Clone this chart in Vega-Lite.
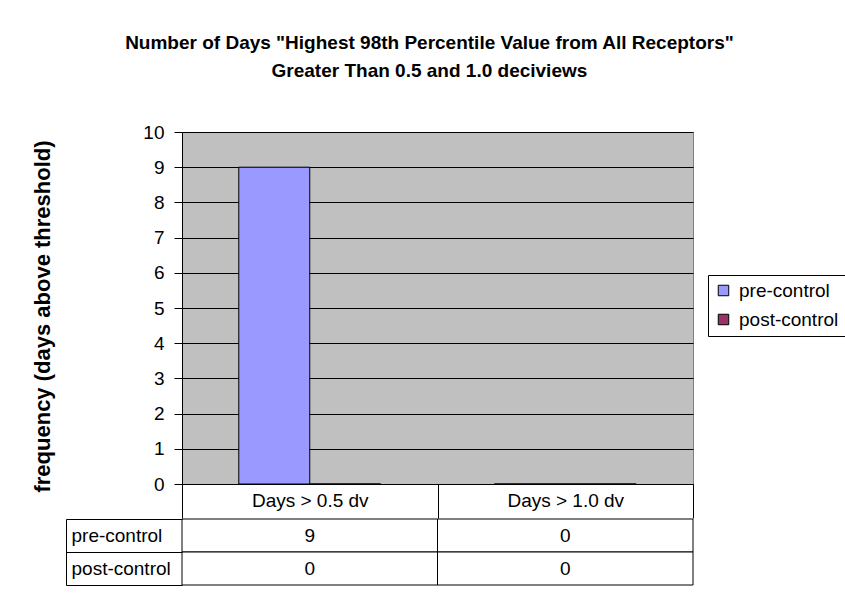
{
  "$schema": "https://vega.github.io/schema/vega-lite/v6.json",
  "padding": {"left": 31, "top": 33, "right": 0, "bottom": 0},
  "background": "white",
  "config": {"font": "Liberation Sans", "concat": {"spacing": -10}},
  "title": {
    "text": ["Number of Days \"Highest 98th Percentile Value from All Receptors\"", "Greater Than 0.5 and 1.0 deciviews"],
    "fontSize": 19, "fontWeight": "bold", "color": "black", "anchor": "middle", "lineHeight": 28, "offset": 42, "dx": -9
  },
  "datasets": {
    "bars": [
      {"cat": "Days > 0.5 dv", "series": "pre-control", "value": 9},
      {"cat": "Days > 0.5 dv", "series": "post-control", "value": 0},
      {"cat": "Days > 1.0 dv", "series": "pre-control", "value": 0},
      {"cat": "Days > 1.0 dv", "series": "post-control", "value": 0}
    ]
  },
  "vconcat": [
    {
      "width": 511,
      "height": 352,
      "view": {"fill": "#C0C0C0", "stroke": "#808080"},
      "data": {"name": "bars"},
      "mark": {"type": "bar", "stroke": "black", "strokeWidth": 1},
      "encoding": {
        "x": {
          "field": "cat", "type": "nominal", "sort": null,
          "scale": {"paddingInner": 0, "paddingOuter": 0},
          "axis": {"title": null, "labelAngle": 0, "labelFontSize": 19, "labelColor": "black", "tickBand": "extent", "tickSize": 34, "tickColor": "black", "domainColor": "black", "labelPadding": -18, "labelBaseline": "middle"}
        },
        "xOffset": {"field": "series", "type": "nominal", "sort": ["pre-control", "post-control"], "scale": {"paddingOuter": 0.8, "paddingInner": 0}},
        "y": {
          "field": "value", "type": "quantitative",
          "scale": {"domain": [0, 10], "nice": false},
          "axis": {"values": [0,1,2,3,4,5,6,7,8,9,10], "grid": true, "gridColor": "black", "gridOpacity": 1, "domainColor": "black", "tickColor": "black", "tickSize": 8, "labelPadding": 10, "labelFontSize": 19, "labelColor": "black", "title": "frequency (days above threshold)", "titleFontSize": 22, "titleFontWeight": "bold", "titleColor": "black", "titlePadding": 88, "titleY": 184}
        },
        "color": {
          "field": "series", "type": "nominal",
          "scale": {"domain": ["pre-control", "post-control"], "range": ["#9999FF", "#993366"]},
          "legend": {"title": null, "orient": "none", "legendX": 526, "legendY": 143, "labelFontSize": 19, "labelColor": "black", "symbolType": "square", "symbolSize": 110, "symbolStrokeColor": "black", "symbolStrokeWidth": 1, "strokeColor": "black", "fillColor": "white", "padding": 6, "rowPadding": 9, "labelOffset": 6}
        }
      }
    },
    {
      "width": 511,
      "height": 66,
      "view": {"stroke": null},
      "data": {"values": [
        {"row": "pre-control", "cat": "Days > 0.5 dv", "val": 9},
        {"row": "pre-control", "cat": "Days > 1.0 dv", "val": 0},
        {"row": "post-control", "cat": "Days > 0.5 dv", "val": 0},
        {"row": "post-control", "cat": "Days > 1.0 dv", "val": 0}
      ]},
      "encoding": {
        "x": {"field": "cat", "type": "nominal", "sort": null, "scale": {"paddingInner": 0, "paddingOuter": 0}, "axis": null},
        "y": {"field": "row", "type": "nominal", "sort": ["pre-control", "post-control"], "scale": {"paddingInner": 0, "paddingOuter": 0},
          "axis": {"title": null, "offset": 116, "domainColor": "black", "tickColor": "black", "tickBand": "extent", "tickSize": -116, "labelAlign": "left", "labelPadding": 111, "labelFontSize": 19, "labelColor": "black", "labelBaseline": "middle"}}
      },
      "layer": [
        {"mark": {"type": "rect", "fill": "white", "stroke": "black", "strokeWidth": 1}},
        {"mark": {"type": "text", "fontSize": 19, "color": "black"}, "encoding": {"text": {"field": "val", "type": "quantitative"}}}
      ]
    }
  ]
}
